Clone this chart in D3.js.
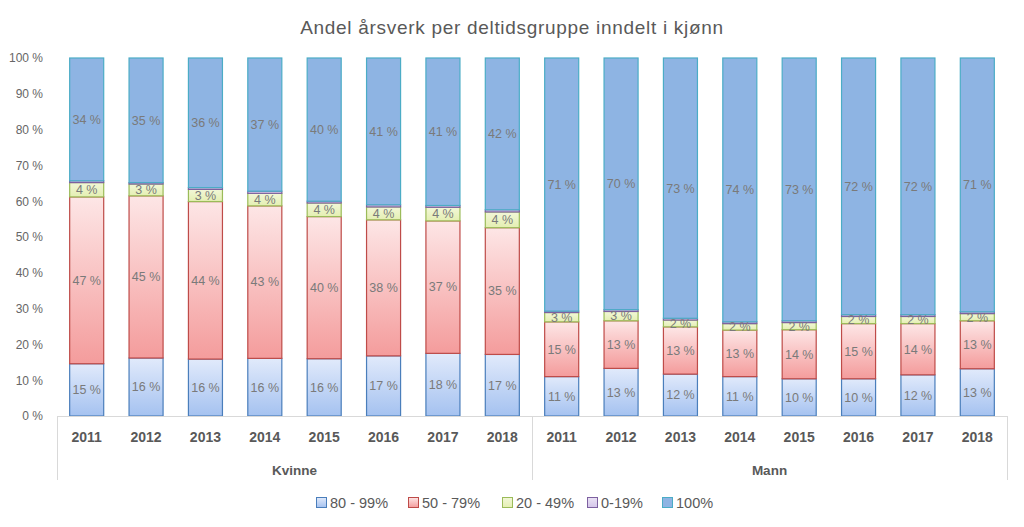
<!DOCTYPE html>
<html><head><meta charset="utf-8">
<script src="https://cdn.jsdelivr.net/npm/d3@7"></script>
<style>
body{margin:0;background:#fff;}
svg{display:block;font-family:"Liberation Sans",Arial,sans-serif;}
</style></head>
<body><svg id="c" width="1024" height="527"></svg>
<script>
const groups = ["Kvinne", "Mann"];
const years = ["2011","2012","2013","2014","2015","2016","2017","2018"];
const seriesNames = ["80 - 99%", "50 - 79%", "20 - 49%", "0-19%", "100%"];
// values in percent, per group then year
const s8099 = [14.6,16.2,15.9,16.1,16.0,16.8,17.5,17.2, 11.0,13.3,11.7,11.0,10.4,10.4,11.5,13.2];
const s5079 = [46.6,45.3,44.0,42.6,39.7,38.0,37.0,35.4, 15.3,13.3,13.2,13.0,13.7,15.4,14.3,13.4];
const s2049 = [4.0,3.3,3.4,3.5,3.8,3.6,3.8,4.4, 2.6,2.6,1.9,1.8,2.0,2.0,2.0,2.0];
const s019  = [0.5,0.4,0.5,0.6,0.5,0.6,0.5,0.6, 0.4,0.5,0.5,0.5,0.5,0.5,0.5,0.5];
const s100  = [34.3,34.8,36.2,37.2,40.0,41.0,41.2,42.4, 70.7,70.3,72.7,73.7,73.4,71.7,71.7,70.9];
const yTicks = [0,10,20,30,40,50,60,70,80,90,100];

const seriesData = [s8099, s5079, s2049, s019, s100];
const showLabel = [true, true, true, false, true];
const styles = [
  {stroke:"#4a7ebb", grad:["#e1eafb","#a5c2f0"]},
  {stroke:"#be4b48", grad:["#fde6e6","#f49c9c"]},
  {stroke:"#9bbb59", grad:["#f2f7d8","#e4efb2"]},
  {stroke:"#7d60a0", grad:["#ebe3f5","#d4c5ea"]},
  {stroke:"#4bacc6", grad:["#8eb4e3","#8eb4e3"]}
];

const svg = d3.select("#c");
const defs = svg.append("defs");
styles.forEach((s,i)=>{
  const g = defs.append("linearGradient").attr("id","g"+i).attr("x1",0).attr("y1",0).attr("x2",0).attr("y2",1);
  g.append("stop").attr("offset","0%").attr("stop-color",s.grad[0]);
  g.append("stop").attr("offset","100%").attr("stop-color",s.grad[1]);
});

const cats = [];
groups.forEach(g=>years.forEach(y=>cats.push(g+"|"+y)));

const x = d3.scaleBand().domain(cats).range([57,1007]).paddingInner(0.41).paddingOuter(0.205);
const y = d3.scaleLinear().domain([0,100]).range([416,58]);

// title
svg.append("text").attr("x",512).attr("y",34).attr("text-anchor","middle")
  .attr("font-size",19).attr("letter-spacing",0.7).attr("fill","#595959").text("Andel årsverk per deltidsgruppe inndelt i kjønn");

// y axis
const yAxis = d3.axisLeft(y).tickValues(yTicks).tickSize(0).tickFormat(d=>d+" %");
const ya = svg.append("g").attr("transform","translate(46,0)").call(yAxis);
ya.select(".domain").remove();
ya.selectAll("text").attr("font-size",12).attr("fill","#666666").attr("font-family","Liberation Sans, Arial, sans-serif");

// stacked data
const rows = cats.map((c,i)=>{
  const r = {cat:c};
  seriesNames.forEach((s,j)=>r[s]=seriesData[j][i]);
  return r;
});
const stack = d3.stack().keys(seriesNames)(rows);

stack.forEach((layer,j)=>{
  const g = svg.append("g");
  g.selectAll("rect").data(layer).join("rect")
    .attr("x",d=>x(d.data.cat)+0.5)
    .attr("width",x.bandwidth()-1)
    .attr("y",d=>y(d[1]))
    .attr("height",d=>Math.max(0,y(d[0])-y(d[1])))
    .attr("fill","url(#g"+j+")")
    .attr("stroke",styles[j].stroke)
    .attr("stroke-width",1.2);
});
stack.forEach((layer,j)=>{
  if(!showLabel[j]) return;
  svg.append("g").selectAll("text").data(layer).join("text")
    .attr("x",d=>x(d.data.cat)+x.bandwidth()/2)
    .attr("y",d=>(y(d[0])+y(d[1]))/2)
    .attr("dy","0.35em")
    .attr("text-anchor","middle")
    .attr("font-size",12.5)
    .attr("fill","#7a7a7a")
    .text(d=>Math.round(d[1]-d[0])+" %");
});

// category axis
const ax = svg.append("g");
ax.append("line").attr("x1",57).attr("x2",1007).attr("y1",416.5).attr("y2",416.5).attr("stroke","#d9d9d9");
[57,532,1007].forEach(v=>ax.append("line").attr("x1",v+0.5).attr("x2",v+0.5).attr("y1",416).attr("y2",480).attr("stroke","#d9d9d9"));
ax.selectAll("text.yr").data(cats).join("text").attr("class","yr")
  .attr("x",d=>x(d)+x.bandwidth()/2).attr("y",442).attr("text-anchor","middle")
  .attr("font-size",14).attr("font-weight","bold").attr("fill","#595959")
  .text(d=>d.split("|")[1]);
groups.forEach((g,i)=>{
  const first = x(g+"|"+years[0]), last = x(g+"|"+years[years.length-1])+x.bandwidth();
  ax.append("text").attr("x",(first+last)/2).attr("y",475).attr("text-anchor","middle")
    .attr("font-size",13.5).attr("font-weight","bold").attr("fill","#595959").text(g);
});

// legend
const legX = [316,408,502,587,662];
const leg = svg.append("g");
seriesNames.forEach((s,i)=>{
  leg.append("rect").attr("x",legX[i]+0.5).attr("y",497.5).attr("width",10).attr("height",10)
    .attr("fill","url(#g"+i+")").attr("stroke",styles[i].stroke);
  leg.append("text").attr("x",legX[i]+14).attr("y",503).attr("dy","0.35em")
    .attr("font-size",14.5).attr("fill","#595959").text(s);
});
</script></body></html>
